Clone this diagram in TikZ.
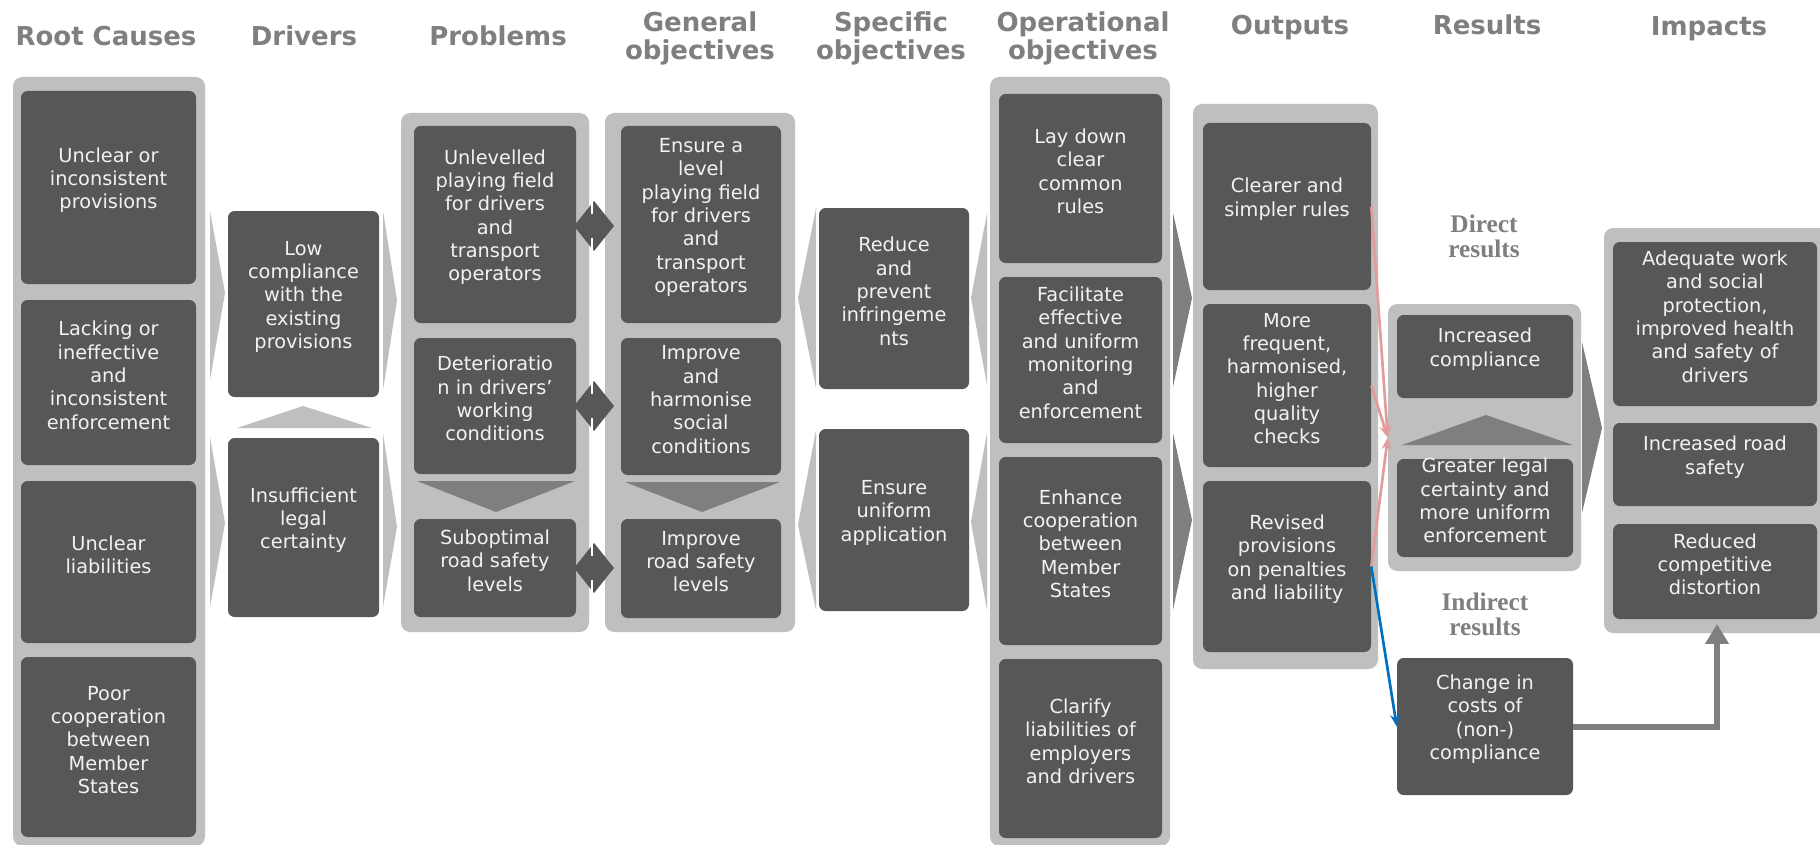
\documentclass[tikz,border=0pt]{standalone}
\usepackage{fontspec}
\setmainfont{DejaVu Sans}
\newfontfamily\resultfont{Liberation Serif}
\usetikzlibrary{arrows.meta,positioning,fit,shapes}
\definecolor{boxgray}{HTML}{575757}
\definecolor{panelgray}{HTML}{BFBFBF}
\definecolor{midgray}{HTML}{7F7F7F}
\definecolor{titlegray}{HTML}{7F7F7F}
\definecolor{linkpink}{HTML}{E49B9B}
\definecolor{linkblue}{HTML}{0070C0}
\definecolor{boxtext}{HTML}{F2F2F2}

\begin{document}
\begin{tikzpicture}[x=0.75pt, y=-0.75pt,
    panel/.style={fill=panelgray, rounded corners=7, inner sep=0pt},
    box/.style={fill=boxgray, rounded corners=5, inner sep=0pt, align=center, text=boxtext,
        font=\fontsize{14.5}{17.5}\selectfont},
    heading/.style={text=titlegray, align=center, anchor=base,
        font=\fontsize{19.5}{21}\selectfont\bfseries},
    subhead/.style={text=midgray, align=center, anchor=base,
        font=\fontsize{19}{18.75}\selectfont\resultfont\bfseries},
    link/.style={line width=2pt, -{Stealth[length=9pt,width=7pt]}}]
    \clip (0,0) rectangle (1820,845);
    \fill[white] (0,0) rectangle (1820,845);

    \node[heading] (t-rc) at (106,46) {Root Causes};
    \node[heading] (t-drv) at (304,46) {Drivers};
    \node[heading] (t-prob) at (498,46) {Problems};
    \node[heading] (t-gen) at (700,60) {General\\objectives};
    \node[heading] (t-spec) at (891,60) {Specific\\objectives};
    \node[heading] (t-op) at (1083,60) {Operational\\objectives};
    \node[heading] (t-out) at (1290,35) {Outputs};
    \node[heading] (t-res) at (1487,35) {Results};
    \node[heading] (t-imp) at (1709,36) {Impacts};
    \node[subhead] (t-direct) at (1484,257) {Direct\\results};
    \node[subhead] (t-indirect) at (1485,635) {Indirect\\results};

    \node[panel, fit={(13,77) (205,846)}] (rcpanel) {};
    \node[panel, fit={(401,113) (589,632)}] (probpanel) {};
    \node[panel, fit={(605,113) (795,632)}] (genpanel) {};
    \node[panel, fit={(990,77) (1170,846)}] (oppanel) {};
    \node[panel, fit={(1193,104) (1378,669)}] (outpanel) {};
    \node[panel, fit={(1388,304) (1581,571)}] (respanel) {};
    \node[panel, fit={(1604,228) (1830,633)}] (imppanel) {};

    \node[box, fit={(21,91) (196,284)}] (rc1) {Unclear or\\inconsistent\\provisions};
    \node[box, fit={(21,300) (196,465)}] (rc2) {Lacking or\\ineffective\\and\\inconsistent\\enforcement};
    \node[box, fit={(21,481) (196,643)}] (rc3) {Unclear\\liabilities};
    \node[box, fit={(21,657) (196,837)}] (rc4) {Poor\\cooperation\\between\\Member\\States};

    \node[box, fit={(228,211) (379,397)}] (drv1) {Low\\compliance\\with the\\existing\\provisions};
    \node[box, fit={(228,438) (379,617)}] (drv2) {Insufficient\\legal\\certainty};

    \node[box, fit={(414,126) (576,323)}] (prob1) {Unlevelled\\playing field\\for drivers\\and\\transport\\operators};
    \node[box, fit={(414,338) (576,474)}] (prob2) {Deterioratio\\n in drivers’\\working\\conditions};
    \node[box, fit={(414,519) (576,617)}] (prob3) {Suboptimal\\road safety\\levels};

    \node[box, fit={(621,126) (781,323)}] (gen1) {Ensure a\\level\\playing field\\for drivers\\and\\transport\\operators};
    \node[box, fit={(621,338) (781,475)}] (gen2) {Improve\\and\\harmonise\\social\\conditions};
    \node[box, fit={(621,519) (781,618)}] (gen3) {Improve\\road safety\\levels};

    \node[box, fit={(819,208) (969,389)}] (spec1) {Reduce\\and\\prevent\\infringeme\\nts};
    \node[box, fit={(819,429) (969,611)}] (spec2) {Ensure\\uniform\\application};

    \node[box, fit={(999,94) (1162,263)}] (op1) {Lay down\\clear\\common\\rules};
    \node[box, fit={(999,277) (1162,443)}] (op2) {Facilitate\\effective\\and uniform\\monitoring\\and\\enforcement};
    \node[box, fit={(999,457) (1162,645)}] (op3) {Enhance\\cooperation\\between\\Member\\States};
    \node[box, fit={(999,659) (1162,838)}] (op4) {Clarify\\liabilities of\\employers\\and drivers};

    \node[box, fit={(1203,123) (1371,290)}] (out1) {Clearer and\\simpler rules};
    \node[box, fit={(1203,304) (1371,467)}] (out2) {More\\frequent,\\harmonised,\\higher\\quality\\checks};
    \node[box, fit={(1203,481) (1371,652)}] (out3) {Revised\\provisions\\on penalties\\and liability};

    \node[box, fit={(1397,315) (1573,398)}] (res1) {Increased\\compliance};
    \node[box, fit={(1397,459) (1573,557)}] (res2) {Greater legal\\certainty and\\more uniform\\enforcement};
    \node[box, fit={(1397,658) (1573,795)}] (res3) {Change in\\costs of\\(non-)\\compliance};

    \node[box, fit={(1613,242) (1817,406)}] (imp1) {Adequate work\\and social\\protection,\\improved health\\and safety of\\drivers};
    \node[box, fit={(1613,423) (1817,506)}] (imp2) {Increased road\\safety};
    \node[box, fit={(1613,524) (1817,619)}] (imp3) {Reduced\\competitive\\distortion};

    \fill[panelgray] (303,406) -- (372,428) -- (237,428) -- cycle;
    \fill[midgray] (417,481) -- (575,481) -- (496,512) -- cycle;
    \fill[midgray] (625,482) -- (780,482) -- (702,512) -- cycle;
    \fill[midgray] (1402,445) -- (1573,445) -- (1486,415) -- cycle;

    \foreach \xa/\xb/\ya/\yb/\yc in {210/225/211/293/380, 210/225/437/523/607,
            383/397/211/300/390, 383/397/433/527/607,
            816/798/208/298/388, 816/798/430/525/610,
            987/971/213/298/385, 987/971/433/522/610}
        \fill[panelgray] (\xa,\ya) -- (\xb,\yb) -- (\xa,\yc) -- cycle;
    \foreach \xa/\xb/\ya/\yb/\yc in {1173/1192/213/298/387, 1173/1192/433/520/610,
            1582/1602/342/428/513}
        \fill[midgray] (\xa,\ya) -- (\xb,\yb) -- (\xa,\yc) -- cycle;

    \foreach \yc in {226,406,568} {
        \fill[boxgray] (594,\yc-25) -- (614,\yc) -- (594,\yc+25) -- (574,\yc) -- cycle;
        \draw[white, line width=1pt] (592,\yc-25) -- (592,\yc-12) (592,\yc+12) -- (592,\yc+25);
    }

    \draw[link, linkpink] (out1.east) -- (respanel.west);
    \draw[link, linkpink] (out2.east) -- (respanel.west);
    \draw[link, linkpink] (out3.east) -- (respanel.west);
    \draw[link, linkblue] (out3.east) -- (res3.west);
    \draw[midgray, line width=4.5pt, -{Triangle[length=15pt,width=17pt]}, shorten >=-7pt]
        (res3.east) -| (imppanel.south);
\end{tikzpicture}
\end{document}
